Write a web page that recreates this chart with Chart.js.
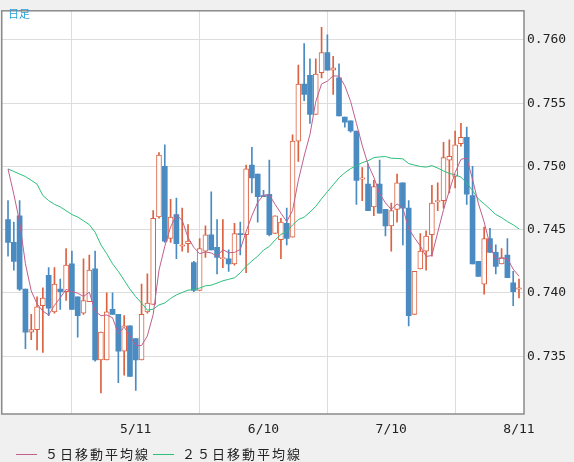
<!DOCTYPE html>
<html><head><meta charset="utf-8">
<script src="https://cdn.jsdelivr.net/npm/chart.js@4/dist/chart.umd.min.js"></script>
<style>
html,body{margin:0;padding:0;background:#f0f0f0;}
#wrap{position:relative;width:574px;height:462px;}
#title{position:absolute;left:8px;top:5px;font:11px "Noto Sans CJK JP";color:#2a9fd6;}
.lg{position:absolute;top:444px;font:13px "Noto Sans CJK JP";color:#222;letter-spacing:2px;}
.lg i{display:inline-block;width:21px;height:0;border-top:1px solid;vertical-align:middle;margin-right:8px;position:relative;top:-1px;}
</style></head><body>
<div id="wrap"><canvas id="c" width="574" height="462"></canvas>
<div id="title">日足</div>
<div class="lg" style="left:16px"><i style="border-color:#c0608c"></i>５日移動平均線</div>
<div class="lg" style="left:153px"><i style="border-color:#2dbf7c"></i>２５日移動平均線</div>
</div>
<script>
const opens  = [.7458,.7440,.7461,.7403,.7369,.7371,.7390,.7414,.7385,.7403,.7401,.7423,.7397,.7384,.7393,.7419,.7347,.7347,.7387,.7383,.7354,.7374,.7364,.7347,.7385,.7391,.7460,.7500,.7443,.7462,
.7437,.7439,.7424,.7402,.7433,.7446,.7436,.7427,.7427,.7423,.7447,.7446,.7501,.7494,.7477,.7478,.7447,.7442,.7455,.7444,.7520,.7565,.7572,.7541,.7574,.7590,.7576,.7570,.7539,.7536,
.7528,.7490,.7486,.7468,.7486,.7466,.7453,.7466,.7487,.7467,.7383,.7419,.7433,.7446,.7472,.7473,.7505,.7492,.7518,.7523,.7477,.7425,.7407,.7443,.7432,.7423,.7430,.7408,.7403];
const highs  = [.7473,.7456,.7473,.7403,.7383,.7397,.7404,.7420,.7420,.7411,.7435,.7433,.7397,.7427,.7430,.7433,.7369,.7400,.7400,.7383,.7382,.7374,.7364,.7407,.7415,.7465,.7511,.7517,.7474,.7475,
.7467,.7454,.7425,.7443,.7453,.7480,.7458,.7458,.7434,.7455,.7456,.7501,.7515,.7494,.7481,.7505,.7461,.7459,.7467,.7525,.7580,.7597,.7585,.7585,.7610,.7604,.7587,.7581,.7539,.7536,
.7528,.7499,.7502,.7489,.7505,.7466,.7471,.7494,.7487,.7473,.7417,.7447,.7449,.7485,.7487,.7519,.7521,.7528,.7534,.7531,.7500,.7425,.7452,.7451,.7438,.7435,.7443,.7417,.7411];
const lows   = [.7429,.7418,.7402,.7356,.7363,.7355,.7353,.7382,.7384,.7387,.7394,.7387,.7365,.7383,.7393,.7346,.7321,.7347,.7383,.7329,.7335,.7334,.7323,.7347,.7384,.7391,.7459,.7440,.7440,.7427,
.7433,.7432,.7401,.7402,.7428,.7434,.7415,.7420,.7417,.7422,.7430,.7416,.7479,.7456,.7476,.7445,.7447,.7427,.7438,.7444,.7504,.7552,.7534,.7541,.7570,.7576,.7557,.7540,.7531,.7527,
.7470,.7473,.7465,.7461,.7463,.7445,.7433,.7456,.7438,.7374,.7383,.7419,.7418,.7429,.7465,.7467,.7479,.7483,.7516,.7470,.7423,.7413,.7399,.7432,.7415,.7423,.7412,.7390,.7396];
const closes = [.7440,.7425,.7403,.7369,.7371,.7389,.7396,.7388,.7407,.7401,.7422,.7387,.7382,.7394,.7418,.7347,.7369,.7385,.7383,.7354,.7374,.7334,.7347,.7383,.7392,.7459,.7509,.7441,.7460,.7439,
.7438,.7441,.7402,.7435,.7446,.7434,.7428,.7428,.7423,.7447,.7446,.7498,.7491,.7476,.7476,.7446,.7461,.7456,.7443,.7520,.7565,.7557,.7541,.7573,.7590,.7576,.7578,.7540,.7535,.7528,
.7489,.7491,.7465,.7484,.7463,.7453,.7465,.7487,.7467,.7382,.7417,.7433,.7445,.7471,.7473,.7507,.7508,.7517,.7523,.7478,.7423,.7413,.7443,.7432,.7421,.7428,.7412,.7401,.7404];
const ma5Head  = [.7498,.7478,.7456,.7423];
const ma25Head = [.7498,.7496,.7494,.7492,.7489,.7486,.7477,.7473,.7470,.7468,.7465,.7462,.7460,.7457,.7454,.7448,.7438,.7431,.7423,.7417,.7410,.7403,.7397,.7392];
const tickIdx = [0,22,44,66,88];
const tickLabels = ['','5/11','6/10','7/10','8/11'];
const yTicks = [.735,.740,.745,.750,.755,.760];

function ma(n, head){return closes.map((c,i)=>{ if(i<n-1) return {x:i,y:head[i]}; let s=0; for(let k=i-n+1;k<=i;k++) s+=closes[k]; return {x:i,y:s/n};});}
const RED='#dc6140', BLUE='#4a8bc2';
const up = closes.map((c,i)=>c>=opens[i]);
const wicks = closes.map((c,i)=>({x:i,y:[lows[i],highs[i]]}));
const bodies = closes.map((c,i)=>({x:i,y:[opens[i],c]}));

const bgPlugin={id:'bg',beforeDraw(ch){const a=ch.chartArea,g=ch.ctx;g.save();g.fillStyle='#fff';g.fillRect(a.left,a.top,a.right-a.left,a.bottom-a.top);g.restore();},
 afterDraw(ch){const a=ch.chartArea,g=ch.ctx;g.save();g.strokeStyle='#8a8a8a';g.lineWidth=1.5;g.strokeRect(a.left,a.top,a.right-a.left,a.bottom-a.top);g.restore();}};

new Chart(document.getElementById('c'),{
 type:'bar',
 data:{datasets:[
  {type:'line',data:ma(5,ma5Head),borderColor:'#c0608c',borderWidth:1,pointRadius:0,tension:0,order:1},
  {type:'line',data:ma(25,ma25Head),borderColor:'#2dbf7c',borderWidth:1,pointRadius:0,tension:0,order:1},
  {data:bodies,barThickness:5,grouped:false,borderSkipped:false,
   backgroundColor:up.map(u=>u?'#fff':BLUE),borderColor:up.map(u=>u?RED:BLUE),borderWidth:up.map(u=>u?1:0),order:2},
  {data:wicks,barThickness:1,grouped:false,backgroundColor:up.map(u=>u?RED:BLUE),borderWidth:0,order:3}
 ]},
 options:{responsive:false,animation:false,events:[],
  layout:{padding:{left:1,top:1,right:0,bottom:0}},
  plugins:{legend:{display:false},tooltip:{enabled:false}},
  scales:{
   x:{type:'linear',min:-1.08,max:88.86,offset:false,
      afterFit(s){s.height=48;},
      afterBuildTicks(s){s.ticks=tickIdx.map(v=>({value:v}));},
      grid:{color:'#dddddd',drawTicks:false,drawOnChartArea:true},border:{display:false},
      ticks:{padding:8,maxRotation:0,autoSkip:false,color:'#222',font:{family:'DejaVu Sans Mono',size:13},callback:(v,i)=>tickLabels[i]}},
   y:{position:'right',min:0.73043,max:0.7623,
      afterFit(s){s.width=50;},
      afterBuildTicks(s){s.ticks=yTicks.map(v=>({value:v}));},
      grid:{color:'#dddddd',drawTicks:false},border:{display:false},
      ticks:{padding:3,color:'#222',font:{family:'DejaVu Sans Mono',size:13},callback:v=>v.toFixed(3)}}
  }},
 plugins:[bgPlugin]
});
</script></body></html>
